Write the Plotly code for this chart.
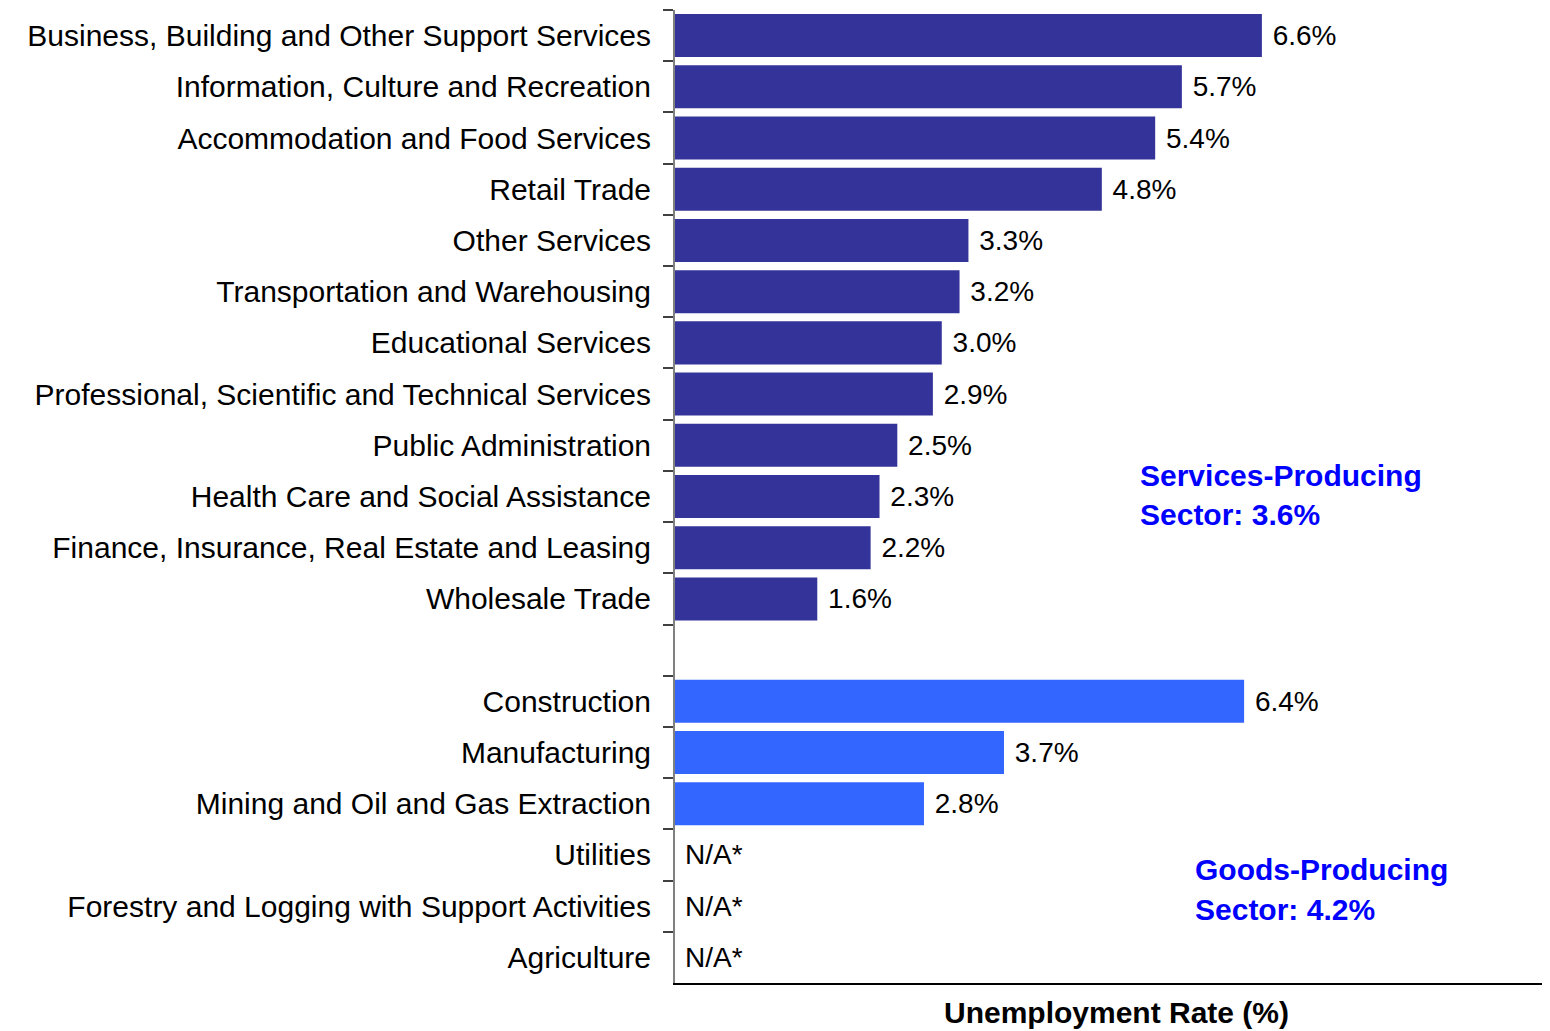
import plotly.graph_objects as go

services = ["Business, Building and Other Support Services", "Information, Culture and Recreation",
            "Accommodation and Food Services", "Retail Trade", "Other Services",
            "Transportation and Warehousing", "Educational Services",
            "Professional, Scientific and Technical Services", "Public Administration",
            "Health Care and Social Assistance", "Finance, Insurance, Real Estate and Leasing",
            "Wholesale Trade"]
services_rate = [6.6, 5.7, 5.4, 4.8, 3.3, 3.2, 3.0, 2.9, 2.5, 2.3, 2.2, 1.6]

goods = ["Construction", "Manufacturing", "Mining and Oil and Gas Extraction", "Utilities",
         "Forestry and Logging with Support Activities", "Agriculture"]
goods_rate = [6.4, 3.7, 2.8, None, None, None]

gap_label = " "
services_total = 3.6
goods_total = 4.2

categories = services + [gap_label] + goods

FONT = "Liberation Sans, Arial"
VAL_SIZE = 28

fig = go.Figure()
fig.add_trace(go.Bar(
    y=services, x=services_rate, orientation="h",
    marker=dict(color="#333399", line=dict(width=0)),
    text=[f"\u00a0{v:.1f}%" for v in services_rate], textposition="outside",
    textfont=dict(size=VAL_SIZE, color="black", family=FONT),
    cliponaxis=False, showlegend=False))
fig.add_trace(go.Bar(
    y=goods, x=goods_rate, orientation="h",
    marker=dict(color="#3366FF", line=dict(width=0)),
    text=[f"\u00a0{v:.1f}%" if v is not None else "" for v in goods_rate], textposition="outside",
    textfont=dict(size=VAL_SIZE, color="black", family=FONT),
    cliponaxis=False, showlegend=False))

annotations = []
for g, v in zip(goods, goods_rate):
    if v is None:
        annotations.append(dict(x=0, y=g, xref="x", yref="y", text="N/A*", showarrow=False,
                                xanchor="left", xshift=8,
                                font=dict(size=VAL_SIZE, color="black", family=FONT)))

sector_font = dict(size=30, color="#0000FF", family=FONT)
for x0, y1, y2, l1, l2 in [
    (5.206, 0.522, 0.481, "Services-Producing", f"Sector: {services_total}%"),
    (5.824, 0.117, 0.076, "Goods-Producing", f"Sector: {goods_total}%"),
]:
    annotations.append(dict(xref="x", yref="paper", x=x0, y=y1, text=f"<b>{l1}</b>",
                            showarrow=False, xanchor="left", yanchor="middle", font=sector_font))
    annotations.append(dict(xref="x", yref="paper", x=x0, y=y2, text=f"<b>{l2}</b>",
                            showarrow=False, xanchor="left", yanchor="middle", font=sector_font))

fig.update_layout(
    width=1550, height=1031,
    margin=dict(l=667, r=0, t=2, b=56),
    plot_bgcolor="white", paper_bgcolor="white",
    bargap=0.16, barmode="overlay",
    font=dict(family=FONT, size=30, color="black"),
    annotations=annotations,
    xaxis=dict(range=[0, 9.93], showticklabels=False, ticks="", showgrid=False, zeroline=False,
               showline=True, linecolor="black", linewidth=2, automargin=False,
               title=dict(text="<b>Unemployment Rate (%)</b>", font=dict(size=30), standoff=18)),
    yaxis=dict(categoryorder="array", categoryarray=categories, type="category",
               autorange="reversed", showgrid=False, zeroline=False, automargin=False,
               showline=True, linecolor="#808080", linewidth=2,
               ticks="outside", tickson="boundaries", ticklen=10, tickcolor="#404040", tickwidth=2,
               ticklabelstandoff=16, tickfont=dict(size=30)),
)
fig.write_html("out.html")
